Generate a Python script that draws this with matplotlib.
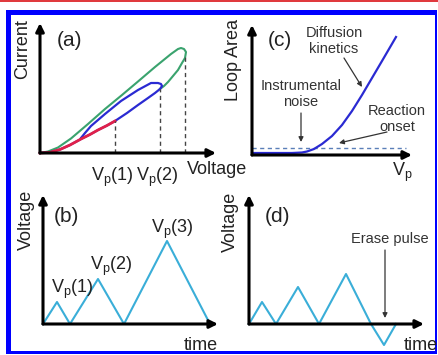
import matplotlib
matplotlib.use("Agg")
import matplotlib.pyplot as plt
from matplotlib.patches import Rectangle

plt.rcParams['font.family'] = ['Liberation Sans', 'DejaVu Sans']
plt.rcParams['mathtext.fontset'] = 'custom'
plt.rcParams['mathtext.rm'] = 'Liberation Sans'
plt.rcParams['mathtext.it'] = 'Liberation Sans:italic'

# ---------------- data (arbitrary units) ----------------
# (a) current-voltage loops
red_v = [0, 10, 20, 30, 41, 50, 58, 67, 75]
red_i = [0, 0.7, 3.5, 8, 14, 18.5, 23, 27.5, 32]
blue_v = [0, 10, 20, 30, 41, 50, 58, 67, 75, 87, 98, 108, 115, 120, 122,
          121, 118, 111, 98, 81, 65, 51, 45, 41]
blue_i = [0, 0.7, 3.5, 8, 14, 18.5, 23, 27.5, 32, 40, 48, 55, 60, 64, 67,
          69, 70, 70, 63, 52, 39, 27, 20, 15]
green_v = [0, 8, 18, 31, 48, 65, 82, 98, 115, 131, 138, 141, 144, 146, 145,
           142, 138, 133, 128, 124, 120]
green_i = [0, 1.5, 5.5, 14.5, 29, 44, 58, 71.5, 86, 99, 104, 105, 104, 101, 95,
           90, 83, 77, 71, 67, 64]
vp_marks = [75, 120, 145]
vp_tops = [32, 64, 98]
vp_labels = ['V$_\\mathregular{p}$(1)', 'V$_\\mathregular{p}$(2)']

# (c) loop area vs Vp
c_v = [0, 20, 40, 50, 55, 62, 70, 80, 90, 100, 110, 120, 130, 144]
c_area = [2, 2, 2, 2.5, 3.5, 6, 11, 19, 30, 44, 60, 77, 94, 118]
noise_level = 7
noise_end = 154

# (b) triangular voltage waveform
b_t = [0, 14, 27, 55, 81, 124, 167]
b_v = [0, 22, 0, 45, 0, 83, 0]
b_labels = ['V$_\\mathregular{p}$(1)', 'V$_\\mathregular{p}$(2)', 'V$_\\mathregular{p}$(3)']
b_label_pos = [(29, 31), (68, 54), (129, 91)]

# (d) waveform with erase pulse
d_t = [0, 13, 27, 49, 70, 97, 122, 135, 147]
d_v = [0, 22, 0, 37, 0, 50, 0, -21, 0]

# ---------------- figure ----------------
W, H = 439, 355
fig = plt.figure(figsize=(W / 100, H / 100), dpi=100)
fig.patch.set_facecolor('white')


def add_ax(l, t, r, b):
    ax = fig.add_axes([l / W, 1 - b / H, (r - l) / W, (b - t) / H])
    ax.axis('off')
    return ax


def ftext(px, py, s, **kw):
    fig.text(px / W, 1 - py / H, s, zorder=5, **kw)


def axis_arrows(ax, xmax, ymax):
    ap = dict(arrowstyle='-|>', lw=2.2, color='black', mutation_scale=12,
              shrinkA=0, shrinkB=0)
    ax.annotate('', xy=(xmax, 0), xytext=(0, 0), arrowprops=ap,
                annotation_clip=False)
    ax.annotate('', xy=(0, ymax), xytext=(0, 0), arrowprops=ap,
                annotation_clip=False)


TXT = '#222222'
LBL = 13
ANN = 10.5
PANEL = 15
WAVE = '#3aaed8'

# ---- (a)
axa = add_ax(40, 23, 216, 153)
axa.set_xlim(0, 176)
axa.set_ylim(0, 130)
axa.plot(green_v, green_i, color='#3aa36e', lw=1.5, clip_on=False)
axa.plot(blue_v, blue_i, color='#2a2ad2', lw=1.6, clip_on=False)
axa.plot(red_v, red_i, color='#e0204a', lw=2.0, clip_on=False)
for x, top in zip(vp_marks, vp_tops):
    axa.plot([x, x], [0, top], ls=(0, (3, 2.5)), color='#444444', lw=1,
             clip_on=False)
axis_arrows(axa, 176, 130)
for x, s in zip(vp_marks[:2], vp_labels):
    axa.annotate(s, xy=(x, 0), xytext=(-2, -9), textcoords='offset points',
                 ha='center', va='top', fontsize=LBL, color=TXT)
ftext(187, 170, 'Voltage', fontsize=LBL, color=TXT, ha='left', va='center')
ftext(23, 49, 'Current', fontsize=LBL, color=TXT, rotation=90,
      ha='center', va='center')
ftext(70, 40, '(a)', fontsize=PANEL, color=TXT, ha='center', va='center')

# ---- (c)
axc = add_ax(252, 25, 412, 155)
axc.set_xlim(0, 160)
axc.set_ylim(0, 130)
axc.plot([0, noise_end], [noise_level, noise_level], ls=(0, (3, 2.5)),
         color='#5a7fb8', lw=1, clip_on=False)
axis_arrows(axc, 160, 130)
axc.plot(c_v, c_area, color='#2a2ad2', lw=1.6, clip_on=False)
aps = dict(arrowstyle='-|>', lw=0.9, color='#333333', mutation_scale=7,
           shrinkA=0, shrinkB=0)
axc.text(82, 114, 'Diffusion\nkinetics', fontsize=ANN, color='#333333',
         ha='center', va='center', linespacing=1.15)
axc.annotate('', xy=(110, 68), xytext=(92, 97), arrowprops=aps)
axc.text(49, 61, 'Instrumental\nnoise', fontsize=ANN, color='#333333',
         ha='center', va='center', linespacing=1.15)
axc.annotate('', xy=(49, 13), xytext=(49, 42), arrowprops=aps)
axc.text(145, 36, 'Reaction\nonset', fontsize=ANN, color='#333333',
         ha='center', va='center', linespacing=1.15)
axc.annotate('', xy=(87, 12), xytext=(135, 23), arrowprops=aps)
ftext(234, 60, 'Loop Area', fontsize=LBL, color=TXT, rotation=90,
      ha='center', va='center')
ftext(280, 40, '(c)', fontsize=PANEL, color=TXT, ha='center', va='center')
ftext(392, 172, 'V$_\\mathregular{p}$', fontsize=LBL, color=TXT,
      ha='left', va='center')

# ---- (b)
axb = add_ax(43, 195, 218, 324)
axb.set_xlim(0, 175)
axb.set_ylim(0, 129)
axb.plot(b_t, b_v, color=WAVE, lw=1.5, clip_on=False)
axis_arrows(axb, 175, 129)
for (x, y), s in zip(b_label_pos, b_labels):
    axb.text(x, y, s, fontsize=LBL, color=TXT, ha='center', va='baseline')
ftext(26, 220, 'Voltage', fontsize=LBL, color=TXT, rotation=90,
      ha='center', va='center')
ftext(66, 217, '(b)', fontsize=PANEL, color=TXT, ha='center', va='center')
ftext(218, 345, 'time', fontsize=LBL, color=TXT, ha='right', va='center')

# ---- (d)
axd = add_ax(249, 195, 424, 345)
axd.set_xlim(0, 175)
axd.set_ylim(-21, 129)
axd.plot(d_t, d_v, color=WAVE, lw=1.5, clip_on=False)
axis_arrows(axd, 175, 129)
axd.text(141, 85, 'Erase pulse', fontsize=ANN, color='#333333',
         ha='center', va='center')
axd.annotate('', xy=(136, 6), xytext=(136, 74), arrowprops=aps)
ftext(230, 222, 'Voltage', fontsize=LBL, color=TXT, rotation=90,
      ha='center', va='center')
ftext(278, 217, '(d)', fontsize=PANEL, color=TXT, ha='center', va='center')
ftext(438, 345, 'time', fontsize=LBL, color=TXT, ha='right', va='center')

# ---- frame
def frect(x0, y0, x1, y1, color):
    fig.patches.append(Rectangle((x0 / W, 1 - y1 / H), (x1 - x0) / W,
                                 (y1 - y0) / H, transform=fig.transFigure,
                                 facecolor=color, edgecolor='none', zorder=1))

frect(0, 0, W, 1.5, '#e03a3e')
frect(6, 10, 437, 15, '#0000ff')
frect(6, 10, 11, 354, '#0000ff')
frect(435.5, 10, 437, 354, '#0000ff')
frect(6, 351, 437, 354, '#0000ff')

fig.savefig('out.png', dpi=100, facecolor='white')
